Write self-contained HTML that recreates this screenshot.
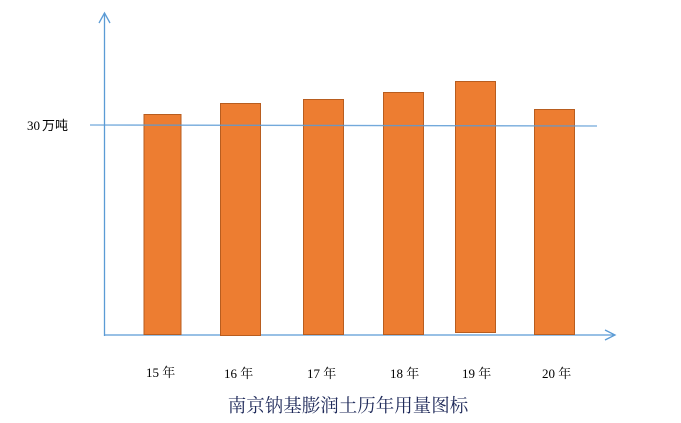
<!DOCTYPE html>
<html><head><meta charset="utf-8"><style>
body{margin:0;background:#fff;width:681px;height:423px;overflow:hidden}
</style></head><body>
<svg width="681" height="423" xmlns="http://www.w3.org/2000/svg" style="position:absolute;left:0;top:0">
<g stroke="#5b9bd5" stroke-width="1.3" fill="none">
<line x1="104.5" y1="13" x2="104.5" y2="336"/>
<polyline points="99,23 104.5,13 110,23"/>
<line x1="104" y1="335" x2="614" y2="335"/>
<polyline points="605,330 615,335 605,340"/>
</g>
<g fill="#ed7d31" stroke="#b85d1f" stroke-width="1">
<rect x="144" y="114.5" width="37" height="220"/>
<rect x="220.5" y="103.5" width="40" height="232"/>
<rect x="303.5" y="99.5" width="40" height="235"/>
<rect x="383.5" y="92.5" width="40" height="242"/>
<rect x="455.5" y="81.5" width="40" height="251"/>
<rect x="534.5" y="109.5" width="40" height="225"/>
</g>
<line x1="90" y1="125" x2="597" y2="126" stroke="#5b9bd5" stroke-width="1.3" opacity="0.85"/>
<text x="27" y="130" font-family="Liberation Serif, Noto Sans CJK SC, sans-serif" font-size="13">30<tspan font-family="Noto Sans CJK SC, sans-serif" dx="2">万吨</tspan></text>
<g font-family="Liberation Serif, Noto Serif CJK SC, serif" font-size="13" fill="#000">
<text x="146" y="377">15 年</text>
<text x="224" y="378">16 年</text>
<text x="307" y="378">17 年</text>
<text x="390" y="378">18 年</text>
<text x="462" y="378">19 年</text>
<text x="542" y="378">20 年</text>
</g>
<text x="348" y="412" text-anchor="middle" font-family="Liberation Serif, Noto Serif CJK SC, serif" font-size="18.5" fill="#1f2a5a">南京钠基膨润土历年用量图标</text>
</svg>
</body></html>
